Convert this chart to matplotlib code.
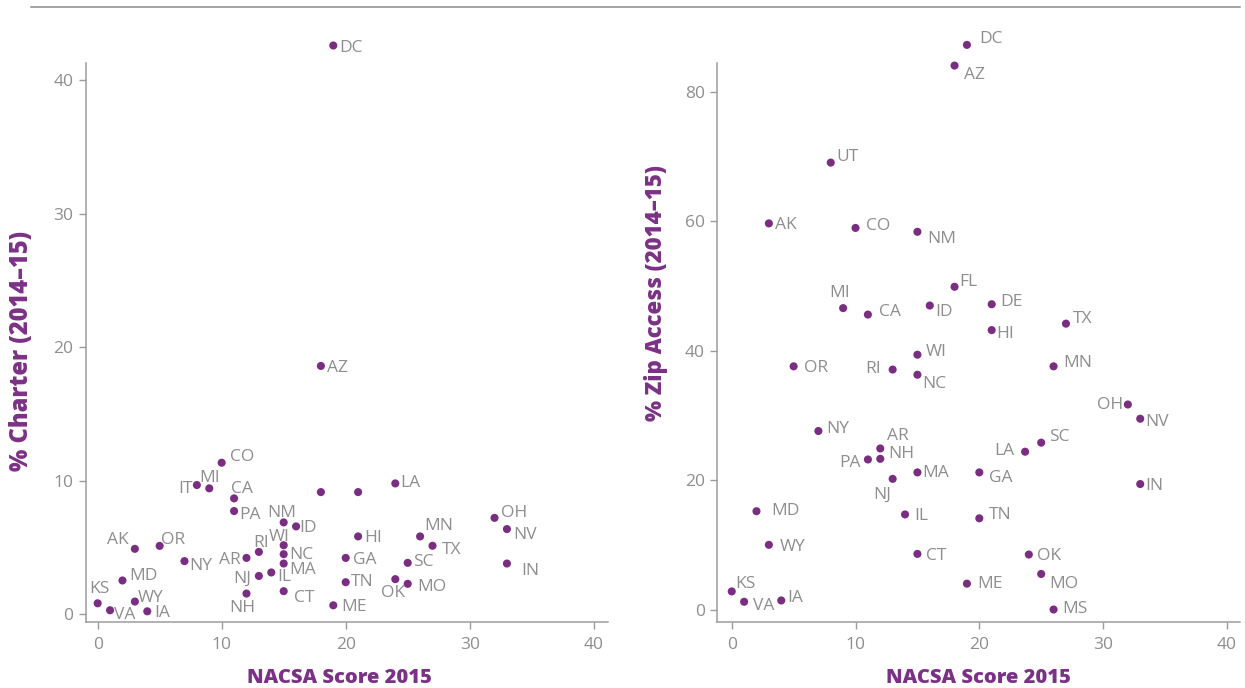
import matplotlib
matplotlib.use("Agg")
import matplotlib.pyplot as plt
from matplotlib.lines import Line2D

plt.rcParams["font.family"] = ["Open Sans", "DejaVu Sans"]

# ---- data: NACSA score vs. % charter enrollment (2014-15) ----
charter_states = ["DC", "AZ", "CO", "LA", "IT", "MI", "", "", "CA", "PA",
                  "OH", "NM", "ID", "NV", "HI", "MN", "WI", "TX", "OR", "AK",
                  "RI", "NC", "AR", "GA", "NY", "SC", "IN", "MA", "IL", "NJ",
                  "OK", "MD", "TN", "MO", "CT", "NH", "WY", "KS", "ME", "VA",
                  "IA"]
charter_score = [19, 18, 10, 24, 8, 9, 18, 21, 11, 11,
                 32, 15, 16, 33, 21, 26, 15, 27, 5, 3,
                 13, 15, 12, 20, 7, 25, 33, 15, 14, 13,
                 24, 2, 20, 25, 15, 12, 3, 0, 19, 1,
                 4]
charter_pct = [42.6, 18.6, 11.35, 9.8, 9.68, 9.43, 9.15, 9.15, 8.68, 7.73,
               7.22, 6.88, 6.58, 6.38, 5.83, 5.83, 5.17, 5.13, 5.12, 4.9,
               4.67, 4.5, 4.22, 4.22, 3.98, 3.85, 3.8, 3.8, 3.13, 2.87,
               2.63, 2.53, 2.4, 2.28, 1.73, 1.55, 0.95, 0.82, 0.67, 0.3,
               0.22]

# ---- data: NACSA score vs. % zip-code access (2014-15) ----
zip_states = ["DC", "AZ", "UT", "AK", "CO", "NM", "FL", "DE", "ID", "MI",
              "CA", "TX", "HI", "WI", "OR", "MN", "RI", "NC", "OH", "NV",
              "NY", "SC", "AR", "LA", "NH", "PA", "MA", "GA", "NJ", "IN",
              "MD", "IL", "TN", "WY", "CT", "OK", "MO", "ME", "KS", "IA",
              "VA", "MS"]
zip_score = [19, 18, 8, 3, 10, 15, 18, 21, 16, 9,
             11, 27, 21, 15, 5, 26, 13, 15, 32, 33,
             7, 25, 12, 23.7, 12, 11, 15, 20, 13, 33,
             2, 14, 20, 3, 15, 24, 25, 19, 0, 4,
             1, 26]
zip_pct = [87.3, 84.1, 69.1, 59.7, 59.0, 58.4, 49.9, 47.2, 47.0, 46.6,
           45.6, 44.2, 43.2, 39.4, 37.6, 37.6, 37.1, 36.3, 31.7, 29.5,
           27.6, 25.8, 24.9, 24.4, 23.3, 23.2, 21.2, 21.2, 20.2, 19.4,
           15.2, 14.7, 14.1, 10.0, 8.6, 8.5, 5.5, 4.0, 2.8, 1.4,
           1.2, 0.0]

x_ticks = [0, 10, 20, 30, 40]
charter_ticks = [0, 10, 20, 30, 40]
zip_ticks = [0, 20, 40, 60, 80]

# ---- label placement (pixel offsets from the dot: dx, dy-up, alignment) ----
charter_place = {
    "DC": (6, 0, "left"), "AZ": (6, 0, "left"), "CO": (8, 8, "left"),
    "LA": (5, 2, "left"), "IT": (-4, -2, "right"), "MI": (0, 12, "center"),
    "CA": (-3, 11, "left"), "PA": (5, -2, "left"), "OH": (6, 7, "left"),
    "NM": (-2, 11, "center"), "ID": (3, 0, "left"), "NV": (6, -4, "left"),
    "HI": (6, 0, "left"), "MN": (4, 12, "left"), "WI": (-5, 10, "center"),
    "TX": (9, -2, "left"), "OR": (1, 8, "left"), "AK": (-6, 11, "right"),
    "RI": (2, 11, "center"), "NC": (6, 1, "left"), "AR": (-6, 0, "right"),
    "GA": (7, 0, "left"), "NY": (5, -3, "left"), "SC": (5, 3, "left"),
    "IN": (14, -5, "left"), "MA": (6, -4, "left"), "IL": (6, -3, "left"),
    "NJ": (-8, -1, "right"), "OK": (-2, -12, "center"), "MD": (7, 6, "left"),
    "TN": (5, 2, "left"), "MO": (10, -1, "left"), "CT": (10, -5, "left"),
    "NH": (-4, -12, "center"), "WY": (3, 6, "left"), "KS": (2, 16, "center"),
    "ME": (8, 0, "left"), "VA": (4, -3, "left"), "IA": (7, 0, "left"),
}
zip_place = {
    "DC": (12, 8, "left"), "AZ": (9, -7, "left"), "UT": (6, 8, "left"),
    "AK": (6, 0, "left"), "CO": (10, 4, "left"), "NM": (10, -5, "left"),
    "FL": (5, 7, "left"), "DE": (9, 4, "left"), "ID": (5, -4, "left"),
    "MI": (-4, 17, "center"), "CA": (11, 5, "left"), "TX": (7, 7, "left"),
    "HI": (5, -2, "left"), "WI": (8, 5, "left"), "OR": (10, 0, "left"),
    "MN": (10, 5, "left"), "RI": (-12, 3, "right"), "NC": (5, -7, "left"),
    "OH": (-5, 1, "right"), "NV": (5, -1, "left"), "NY": (8, 4, "left"),
    "SC": (8, 8, "left"), "AR": (7, 14, "left"), "LA": (-11, 3, "right"),
    "NH": (8, 7, "left"), "PA": (-7, -2, "right"), "MA": (5, 1, "left"),
    "GA": (10, -4, "left"), "NJ": (-10, -14, "center"), "IN": (5, 0, "left"),
    "MD": (15, 2, "left"), "IL": (9, 0, "left"), "TN": (10, 5, "left"),
    "WY": (11, 0, "left"), "CT": (9, 0, "left"), "OK": (8, 1, "left"),
    "MO": (8, -8, "left"), "ME": (10, 2, "left"), "KS": (4, 9, "left"),
    "IA": (6, 4, "left"), "VA": (9, -2, "left"), "MS": (9, 3, "left"),
}

DOT = "#7a2e82"
TITLE = "#7b3185"
LABEL = "#8e8e8e"
AXIS = "#9c9c9c"

W, H = 1245, 688
fig = plt.figure(figsize=(W / 100, H / 100), dpi=100)

ax_c = fig.add_axes([86 / W, 66 / H, 522 / W, 559 / H])
ax_z = fig.add_axes([717.5 / W, 66 / H, 522.5 / W, 559 / H])


def style_axes(ax, yticks):
    for side in ("top", "right"):
        ax.spines[side].set_visible(False)
    for side in ("left", "bottom"):
        ax.spines[side].set_color(AXIS)
        ax.spines[side].set_linewidth(1.1)
    ax.set_xticks(x_ticks)
    ax.set_yticks(yticks)
    ax.tick_params(axis="both", colors=AXIS, labelcolor=LABEL, length=5,
                   width=1.0, labelsize=12.5)
    ax.tick_params(axis="x", pad=6)
    ax.tick_params(axis="y", pad=4)
    ax.set_facecolor("none")


def draw(ax, names, xs, ys, place):
    ax.scatter(xs, ys, s=34, color=DOT, edgecolors="none", zorder=3,
               clip_on=False)
    for name, x, y in zip(names, xs, ys):
        if not name:
            continue
        dx, dy, ha = place.get(name, (6, 0, "left"))
        ax.annotate(name, (x, y), xytext=(dx, dy), textcoords="offset pixels",
                    ha=ha, va="center_baseline", fontsize=12.5, color=LABEL,
                    annotation_clip=False)


style_axes(ax_c, charter_ticks)
ax_c.set_xlim(-0.94, 41.15)
ax_c.set_ylim(-0.58, 41.29)
draw(ax_c, charter_states, charter_score, charter_pct, charter_place)

style_axes(ax_z, zip_ticks)
ax_z.set_xlim(-1.15, 41.06)
ax_z.set_ylim(-1.93, 84.5)
draw(ax_z, zip_states, zip_score, zip_pct, zip_place)

# axis titles
title_kw = dict(ha="center", va="center", fontweight=800, color=TITLE)
fig.text(339 / W, 1 - 678 / H, "NACSA Score 2015", fontsize=14.5, **title_kw)
fig.text(978 / W, 1 - 678 / H, "NACSA Score 2015", fontsize=14.5, **title_kw)
fig.text(22 / W, 1 - 351 / H, "% Charter (2014\u201315)", rotation=90,
         fontsize=17, **title_kw)
fig.text(656 / W, 1 - 293 / H, "% Zip Access (2014\u201315)", rotation=90,
         fontsize=16, **title_kw)

# rule across the top
fig.add_artist(Line2D([31 / W, 1240 / W], [1 - 7 / H, 1 - 7 / H],
                      color="#8a8a8a", linewidth=1.1))

fig.savefig("out.png", dpi=100, facecolor="white")
